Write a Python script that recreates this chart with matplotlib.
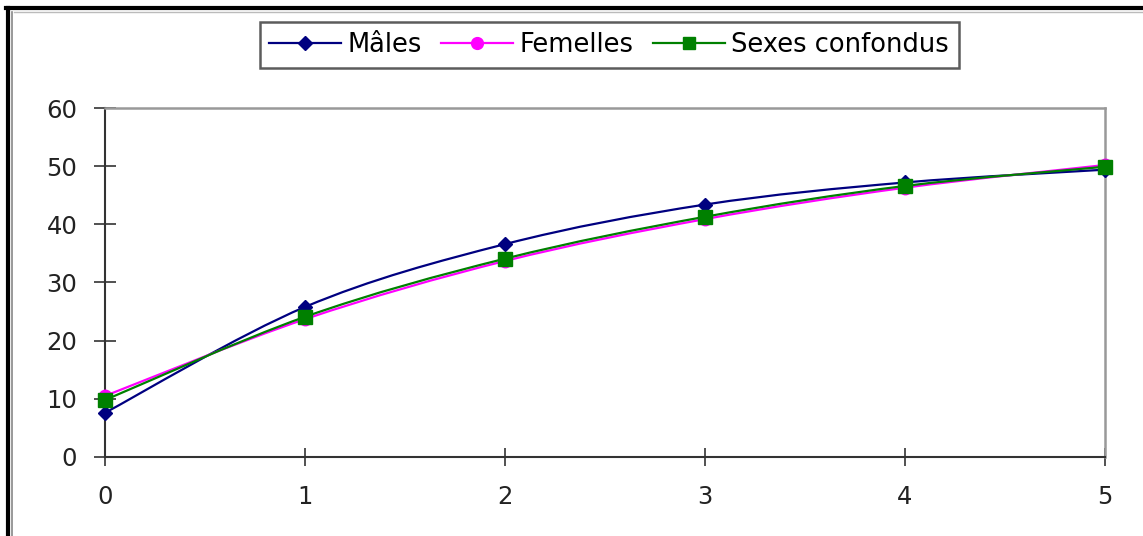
import matplotlib
matplotlib.use('Agg')
import matplotlib.pyplot as plt
from matplotlib.path import Path
from matplotlib.patches import PathPatch
from matplotlib.lines import Line2D

plt.rcParams['font.family'] = ['DejaVu Sans']

# data
ages = [0, 1, 2, 3, 4, 5]
males = [7.6, 25.8, 36.6, 43.4, 47.2, 49.4]
femelles = [10.5, 23.7, 33.7, 40.9, 46.3, 50.2]
confondus = [9.8, 24.1, 34.1, 41.3, 46.6, 49.9]

series = [
    ('Mâles', males, '#000080', 'D', 7.5),
    ('Femelles', femelles, '#FF00FF', 'o', 9),
    ('Sexes confondus', confondus, '#008000', 's', 9.5),
]


def smooth_path(xs, ys):
    """Excel-like smoothed line: cubic Bezier through every point."""
    pts = list(zip(xs, ys))
    verts = [pts[0]]
    codes = [Path.MOVETO]
    n = len(pts)
    for i in range(n - 1):
        p0 = pts[max(i - 1, 0)]
        p1 = pts[i]
        p2 = pts[i + 1]
        p3 = pts[min(i + 2, n - 1)]
        c1 = (p1[0] + (p2[0] - p0[0]) / 6, p1[1] + (p2[1] - p0[1]) / 6)
        c2 = (p2[0] - (p3[0] - p1[0]) / 6, p2[1] - (p3[1] - p1[1]) / 6)
        verts += [c1, c2, p2]
        codes += [Path.CURVE4] * 3
    return Path(verts, codes)


fig = plt.figure(figsize=(11.43, 5.36), dpi=100)
ax = fig.add_axes([0.0919, 0.1474, 0.8749, 0.6511])

handles = []
for name, vals, color, marker, ms in series:
    ax.add_patch(PathPatch(smooth_path(ages, vals), fill=False,
                           edgecolor=color, linewidth=1.6, zorder=3))
    ax.plot(ages, vals, linestyle='none', marker=marker, markersize=ms,
            color=color, zorder=4, clip_on=False)
    handles.append(Line2D([], [], color=color, linewidth=1.6,
                          marker=marker, markersize=ms - 0.5, label=name))

ax.set_xlim(0, 5)
ax.set_ylim(0, 60)
ax.set_xticks(ages)
ax.set_yticks(range(0, 61, 10))
ax.tick_params(direction='inout', width=1.2, labelsize=17.5,
               labelcolor='#222222', color='#333333')
ax.tick_params(axis='x', length=13, pad=14)
ax.tick_params(axis='y', length=16, pad=12)

for side in ['left', 'bottom']:
    ax.spines[side].set_color('#333333')
    ax.spines[side].set_linewidth(1.5)
for side in ['top', 'right']:
    ax.spines[side].set_color('#999999')
    ax.spines[side].set_linewidth(1.8)

leg = fig.legend(handles=handles, loc='center', bbox_to_anchor=(0.533, 0.916),
                 ncol=3, fontsize=18.5, frameon=True, fancybox=False,
                 handlelength=2.8, columnspacing=0.75, handletextpad=0.25,
                 borderpad=0.38, borderaxespad=0)
leg.get_frame().set_edgecolor('#333333')
leg.get_frame().set_linewidth(1.8)

# outer frame of the picture (top and left edges)
fig.add_artist(Line2D([0.005, 1.0], [0.985, 0.985], color='black', linewidth=3,
                      transform=fig.transFigure))
fig.add_artist(Line2D([0.012, 1.0], [0.978, 0.978], color='#bbbbbb', linewidth=1,
                      transform=fig.transFigure))
fig.add_artist(Line2D([0.0066, 0.0066], [0.0, 0.985], color='black', linewidth=3,
                      transform=fig.transFigure))
fig.add_artist(Line2D([0.0108, 0.0108], [0.0, 0.978], color='#888888', linewidth=1.2,
                      transform=fig.transFigure))

fig.savefig('out.png', dpi=100, facecolor='white')
